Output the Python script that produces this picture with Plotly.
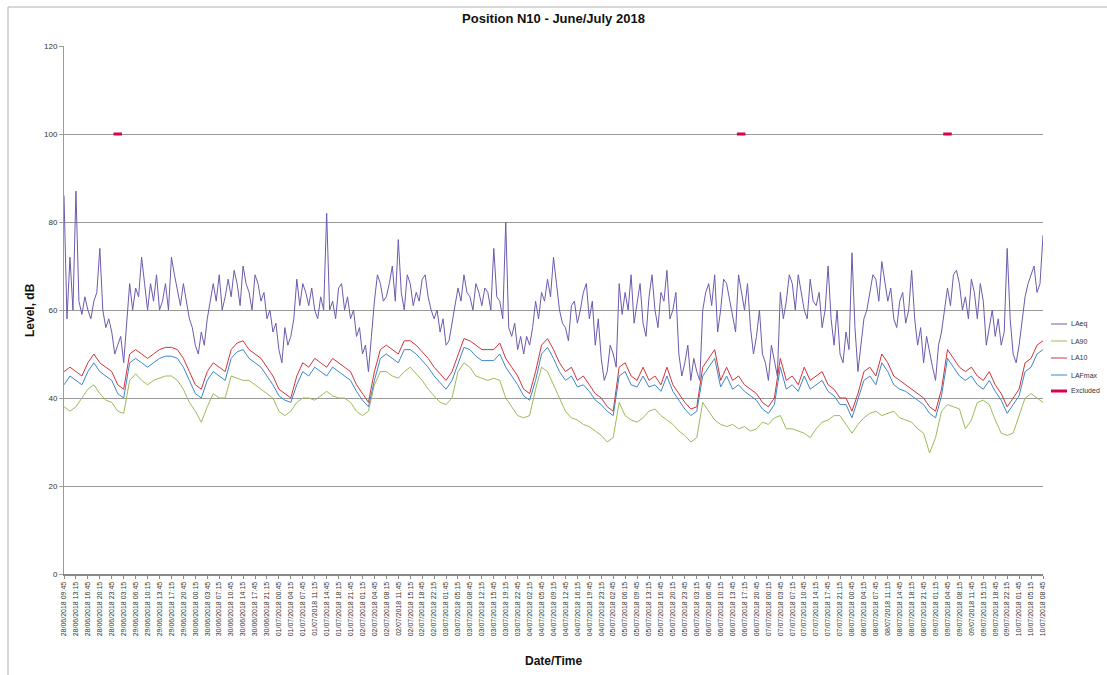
import plotly.graph_objects as go
from datetime import datetime, timedelta

# ---- data ----
START = "2018-06-28 09:45"
END = "2018-07-10 08:45"
STEP_MIN = 105          # LA90 / LA10 / LAFmax sample spacing (minutes)
STEP_MIN_LAEQ = 52.5    # LAeq sample spacing (minutes)

laeq = [86, 58, 72, 60, 87, 62, 59, 63, 60, 58, 62, 64, 74, 60, 56, 58, 55, 50, 52, 54, 48, 56, 66, 60, 65, 63, 72, 66,
        60, 66, 62, 68, 60, 62, 66, 60, 72, 68, 64, 61, 66, 62, 58, 56, 52, 50, 55, 52, 58, 62, 66, 62, 68, 60, 63, 67,
        63, 69, 66, 61, 70, 66, 64, 60, 68, 66, 62, 64, 58, 60, 55, 57, 51, 48, 56, 52, 54, 58, 67, 61, 66, 64, 61, 65,
        60, 58, 63, 60, 82, 60, 62, 58, 65, 66, 60, 63, 58, 60, 54, 56, 50, 52, 46, 54, 62, 68, 66, 62, 63, 66, 70, 62,
        76, 64, 60, 68, 66, 61, 64, 62, 67, 68, 63, 60, 58, 60, 55, 58, 52, 53, 57, 60, 65, 62, 68, 64, 63, 60, 66, 64,
        61, 65, 64, 60, 74, 63, 62, 58, 80, 56, 54, 57, 51, 54, 50, 54, 52, 56, 62, 58, 64, 62, 67, 63, 72, 66, 60, 57,
        56, 53, 61, 62, 57, 60, 64, 66, 58, 62, 52, 58, 49, 44, 46, 52, 50, 47, 66, 59, 64, 60, 68, 57, 62, 66, 57, 54,
        63, 68, 60, 56, 64, 62, 69, 58, 60, 64, 50, 45, 48, 52, 44, 49, 46, 44, 60, 64, 66, 61, 68, 55, 60, 67,
        66, 62, 58, 55, 68, 64, 60, 66, 56, 50, 54, 60, 50, 48, 44, 52, 48, 45, 64, 58, 62, 68, 66, 60, 68, 64, 60, 58,
        67, 62, 61, 64, 56, 60, 70, 58, 52, 60, 50, 48, 55, 51, 73, 56, 46, 52, 58, 60, 64, 68, 67, 62, 71, 66, 62, 65,
        58, 56, 62, 64, 57, 60, 69, 58, 52, 56, 48, 54, 50, 47, 44, 52, 55, 60, 65, 61, 68, 69, 66, 60, 63, 58, 67, 64,
        58, 66, 62, 52, 56, 60, 54, 58, 52, 55, 74, 58, 50, 48, 52, 58, 63, 66, 68, 70, 64, 66, 77]

la90 = [38, 37, 38, 40, 42, 43, 41, 39.5, 39, 37, 36.5, 44, 45.5, 44, 43, 44, 44.5, 45, 45, 44, 42, 39, 37, 34.5, 38, 41, 40, 40,
        45, 44.5, 44, 44, 43, 42, 41, 40, 37, 36, 37, 39, 40, 40, 39.5, 40.5, 41.5, 40.5, 40, 40, 39, 37, 36, 37, 43, 46, 46, 45,
        44.5, 46, 47, 45.5, 44, 42, 40.5, 39, 38.5, 40, 46, 48, 47, 45, 44.5, 44, 44.5, 44, 40, 38, 36, 35.5, 36, 42, 47, 46, 43, 40,
        37, 35.5, 35, 34, 33.5, 32.5, 31.5, 30, 31, 39, 36, 35, 34.5, 35.5, 37, 37.5, 36, 35, 34, 32.5, 31.5, 30, 31, 39, 37, 35, 34,
        33.5, 34, 33, 33.5, 32.5, 33, 34.5, 34, 35.5, 36, 33, 33, 32.5, 32, 31, 33, 34.5, 35, 36, 36, 34, 32, 34, 35.5, 36.5, 37, 36, 36.5,
        37, 35.5, 35, 34.5, 33, 32, 27.5, 31, 37, 38.5, 38, 37.5, 33, 35, 39, 39.5, 38.5, 35, 32, 31.5, 32, 36, 40, 41, 40, 39]

la10 = [46, 47, 46, 45, 48, 50, 48, 47, 46, 43, 42, 50, 51, 50, 49, 50, 51, 51.5, 51.5, 51, 49, 46, 43, 42, 46, 48, 47, 46,
        51, 52.5, 53, 51, 50, 49, 47, 45, 42, 41, 40, 45, 48, 47, 49, 48, 47, 49, 48, 47, 46, 43, 41, 39, 46, 51, 52, 51,
        50, 53, 53, 52, 50.5, 49, 47, 45.5, 44, 46, 50, 53.5, 53, 52, 51, 51, 51, 52.5, 49, 47, 45, 42, 41, 46, 52, 53.5, 51, 48,
        46, 47, 44, 45, 43, 41, 40, 38, 37, 47, 48, 45, 44, 47, 44, 45, 43, 47, 43, 41, 39, 37.5, 38, 47, 49, 51, 44,
        47, 44, 45, 43, 42, 41, 39, 38, 40, 49, 44, 45, 43, 47, 44, 45, 46, 43, 42, 40, 40, 37, 41, 46, 47, 45, 50, 48,
        45, 44, 43, 42, 41, 40, 38, 37, 42, 51, 49, 47, 46, 47, 45, 44, 46, 43, 41, 38, 40, 42, 48, 49, 52, 53]

lafmax = [43, 45, 44, 43, 46, 48, 46, 45, 44, 41, 40, 48, 49, 48, 47, 48, 49, 49.5, 49.5, 49, 47, 44, 41, 40, 44, 46, 45, 44,
          49, 50.5, 51, 49, 48, 47, 45, 43, 40.5, 39.5, 39, 43, 46, 45, 47, 46, 45, 47, 46, 45, 44, 41.5, 39.5, 38, 44, 49, 50, 49,
          48, 51, 51, 50, 48.5, 47, 45, 43.5, 42, 44, 48, 51.5, 51, 49.5, 48.5, 48.5, 48.5, 50, 47, 45, 43, 40.5, 39.5, 44, 50, 51.5, 49, 46,
          44, 45, 42.5, 43, 41.5, 39.5, 38.5, 37, 36, 45, 46, 43, 42.5, 45, 42.5, 43, 41.5, 45, 41.5, 39.5, 37.5, 36, 37, 45, 47, 49, 42.5,
          45, 42, 43, 41.5, 40.5, 39.5, 37.5, 36.5, 38.5, 47, 42, 43, 41.5, 45, 42, 43, 44, 41.5, 40.5, 38.5, 38.5, 35.5, 39.5, 44, 45, 43, 48, 46,
          43, 42, 41.5, 40.5, 39.5, 38.5, 36.5, 35.5, 40.5, 49, 47, 45, 44, 45, 43, 42, 44, 41.5, 39.5, 36.5, 38.5, 40.5, 46, 47, 50, 51]

# Excluded periods (plotted at level 100)
excluded_periods = [("2018-06-29 00:15", "2018-06-29 02:45"),
                    ("2018-07-06 15:00", "2018-07-06 17:30"),
                    ("2018-07-09 03:30", "2018-07-09 06:00")]
excluded_level = 100

series_names = ["LAeq", "LA90", "LA10", "LAFmax", "Excluded"]
series_colors = ["#6E5AAE", "#9BBB59", "#D0343A", "#3F86C8", "#E0004A"]

# ---- build ----
t0 = datetime.strptime(START, "%Y-%m-%d %H:%M")
t_end = datetime.strptime(END, "%Y-%m-%d %H:%M")
times = [t0 + timedelta(minutes=STEP_MIN * i) for i in range(len(la90))]
times_laeq = [t0 + timedelta(minutes=STEP_MIN_LAEQ * i) for i in range(len(laeq))]

fig = go.Figure()
fig.add_trace(go.Scatter(x=times_laeq, y=laeq, mode="lines", name=series_names[0],
                         line=dict(color=series_colors[0], width=1)))
for name, vals, col in zip(series_names[1:4], [la90, la10, lafmax], series_colors[1:4]):
    fig.add_trace(go.Scatter(x=times, y=vals, mode="lines", name=name,
                             line=dict(color=col, width=1)))

ex_x, ex_y = [], []
for a, b in excluded_periods:
    ex_x += [a, b, None]
    ex_y += [excluded_level, excluded_level, None]
fig.add_trace(go.Scatter(x=ex_x, y=ex_y, mode="lines", name="Excluded",
                         line=dict(color=series_colors[4], width=3)))

# tick labels every 3.5 h
tickvals, ticktext = [], []
t = t0
while t <= t_end:
    tickvals.append(t)
    ticktext.append(t.strftime("%d/%m/%Y %H:%M"))
    t += timedelta(minutes=210)

L, R, T, B = 64, 64, 46, 101
W, H = 1107, 675
pw, ph = W - L - R, H - T - B

def px(x):
    return (x - L) / pw

def py(y):
    return (H - B - y) / ph

# custom legend (line sample + label)
annotations = [
    dict(text="<b>Level, dB</b>", x=px(30), y=0.5, xref="paper", yref="paper",
         textangle=-90, showarrow=False, font=dict(size=12, color="#111"),
         xanchor="center", yanchor="middle"),
    dict(text="<b>Date/Time</b>", x=px(553), y=py(661), xref="paper", yref="paper",
         showarrow=False, font=dict(size=12, color="#111"),
         xanchor="center", yanchor="middle"),
]
shapes = [
    dict(type="line", xref="paper", yref="paper", x0=px(8), x1=px(8), y0=py(7), y1=py(690),
         line=dict(color="#b0b0b0", width=1)),
    dict(type="line", xref="paper", yref="paper", x0=px(8), x1=px(1120), y0=py(7), y1=py(7),
         line=dict(color="#b0b0b0", width=1)),
]
leg_y = [324, 341, 358, 375, 391]
for k, (name, col) in enumerate(zip(series_names, series_colors)):
    shapes.append(dict(type="line", xref="paper", yref="paper",
                       x0=px(1051), x1=px(1067), y0=py(leg_y[k]), y1=py(leg_y[k]),
                       line=dict(color=col, width=3 if name == "Excluded" else 1)))
    annotations.append(dict(text=name, x=px(1069), y=py(leg_y[k]), xref="paper", yref="paper",
                            showarrow=False, xanchor="left", yanchor="middle",
                            font=dict(size=7, color="#333")))

fig.update_layout(
    width=W, height=H,
    margin=dict(l=L, r=R, t=T, b=B, autoexpand=False),
    paper_bgcolor="white", plot_bgcolor="white",
    font=dict(family="Liberation Sans, Arial, sans-serif", color="#222"),
    title=dict(text="<b>Position N10 - June/July 2018</b>", x=0.5, xanchor="center",
               y=1 - 18 / H, yanchor="middle", font=dict(size=13, color="#111")),
    showlegend=False,
    xaxis=dict(type="date", range=[t0, t_end], tickmode="array",
               tickvals=tickvals, ticktext=ticktext, tickangle=-90,
               tickfont=dict(size=7, color="#333"), showgrid=False,
               showline=True, linecolor="#8a8a8a", linewidth=2,
               ticks="outside", ticklen=3, tickcolor="#8a8a8a", zeroline=False),
    yaxis=dict(range=[0, 120], dtick=20, tick0=0, showgrid=True, gridcolor="#9a9a9a",
               gridwidth=1, showline=True, linecolor="#9a9a9a", linewidth=1,
               ticks="outside", ticklen=4, tickcolor="#9a9a9a",
               tickfont=dict(size=8, color="#333"), zeroline=False),
    annotations=annotations,
    shapes=shapes,
)

fig.write_html("out.html")
